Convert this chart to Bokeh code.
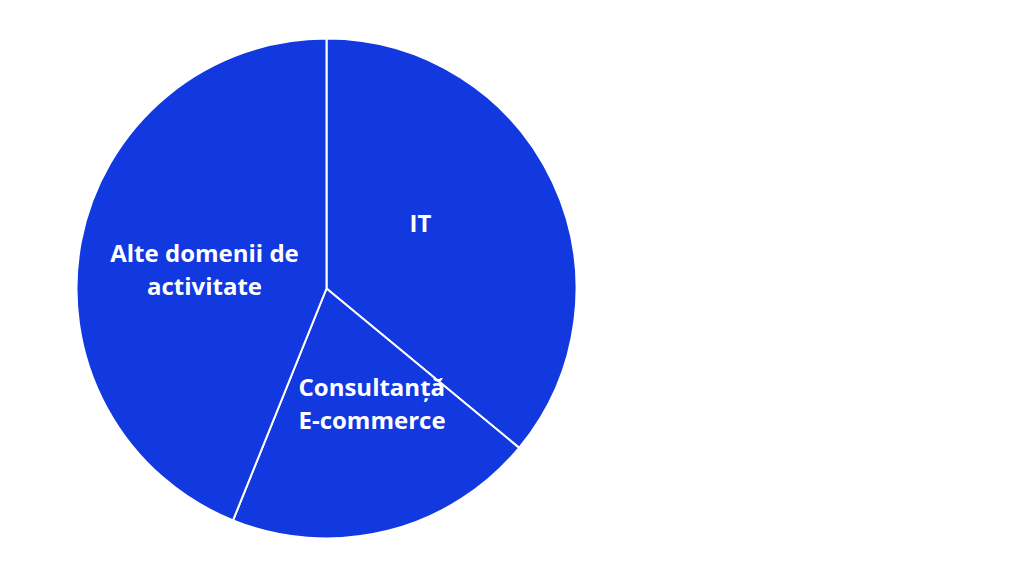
import math
from bokeh.plotting import figure
from bokeh.models import ColumnDataSource
from bokeh.core.properties import value
from bokeh.embed import file_html
from bokeh.resources import INLINE

# Data
categories = ["IT", "Consultanță\nE-commerce", "Alte domenii de\nactivitate"]
shares = [36.0, 20.1, 43.9]

# Layout
W, H = 1008, 561
cx, cy, r = 326, 273, 250
label_pos = [(420, 339, "center"), (298, 159, "left"), (204, 293, "center")]
color = "#1238E0"

total = sum(shares)
starts, ends = [], []
acc = 0.0
for s in shares:
    a0 = math.pi / 2 - 2 * math.pi * acc / total
    acc += s
    a1 = math.pi / 2 - 2 * math.pi * acc / total
    starts.append(a0)
    ends.append(a1)

src = ColumnDataSource(dict(start=starts, end=ends, cat=categories))

p = figure(width=W, height=H, x_range=(0, W), y_range=(0, H),
           output_backend="svg", toolbar_location=None, min_border=0)
p.axis.visible = False
p.grid.visible = False
p.outline_line_color = None
p.background_fill_color = "white"

p.wedge(x=cx, y=cy, radius=r, start_angle="start", end_angle="end",
        direction="clock", fill_color=color, line_color="white", line_width=2,
        source=src)

for (lx, ly, al), cat in zip(label_pos, categories):
    p.text(x=[lx], y=[ly], text=[cat], text_color="white",
           text_font=value("Open Sans"), text_font_style="bold",
           text_font_size="24px", text_align=al, text_baseline="middle",
           text_line_height=1.0)

open("out.html", "w").write(file_html(p, INLINE))
